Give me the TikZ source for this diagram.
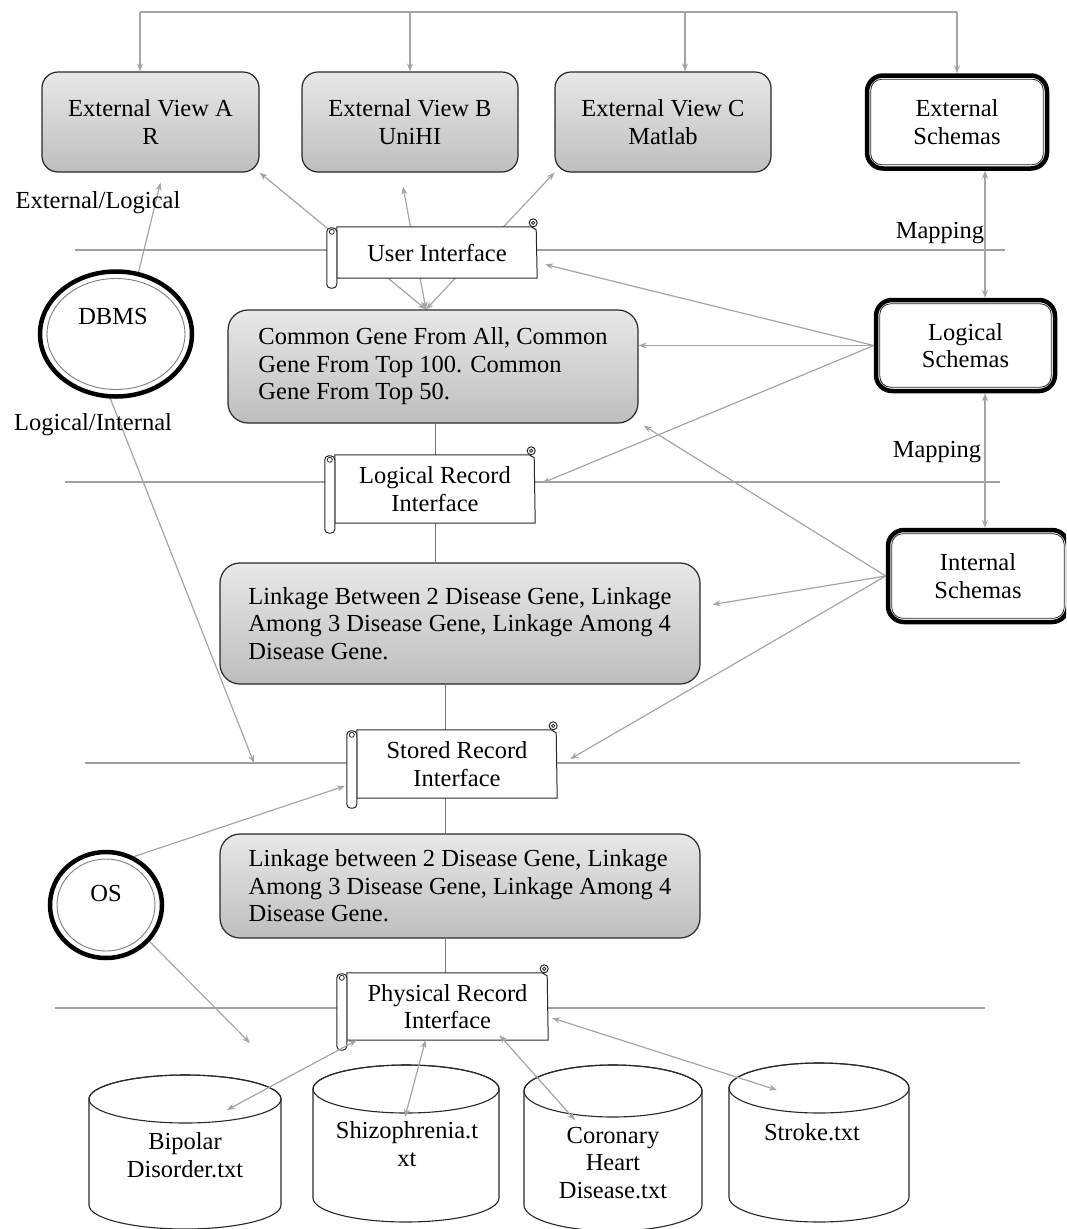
\documentclass[tikz,border=0pt]{standalone}
\usepackage{fontspec}
\setmainfont{Liberation Serif}
\usetikzlibrary{shapes.geometric,arrows.meta,calc}
\pgfdeclarelayer{bg}
\pgfdeclarelayer{mid}
\pgfsetlayers{bg,mid,main}
\definecolor{g1}{RGB}{232,232,232}
\definecolor{g2}{RGB}{190,190,190}
\definecolor{cgray}{RGB}{165,165,165}
\definecolor{hgray}{RGB}{160,160,160}
\definecolor{vgray}{RGB}{120,120,120}
\definecolor{edge}{RGB}{40,40,40}
\newcommand{\scrolldeco}[1]{%
  \draw[edge, line width=1pt, fill=white] (#1.north west) -- ([xshift=-6pt]#1.north east) -- ([shift={(-1pt,-3pt)}]#1.north east) -- (#1.south east) -- (#1.south west) -- cycle;
  \draw[edge, line width=1pt, fill=white] ([shift={(-4pt,4pt)}]#1.north east) circle (4pt);
  \draw[edge, line width=0.8pt] ([shift={(-4pt,4pt)}]#1.north east) circle (1.6pt);
  \draw[edge, line width=1pt, fill=white, rounded corners=4pt] ([shift={(-10pt,-1pt)}]#1.north west) rectangle ([shift={(0pt,-10pt)}]#1.south west);
  \draw[edge, line width=0.8pt] ([shift={(-5pt,-5pt)}]#1.north west) circle (2.5pt);
}
\newcommand{\cylshape}[5]{%
  \draw[edge, line width=1.1pt, fill=white] (#1-#2,#3) -- (#1-#2,#4) arc[start angle=180, end angle=360, x radius=#2pt, y radius=#5pt] -- (#1+#2,#3) arc[start angle=0, end angle=180, x radius=#2pt, y radius=#5pt] -- cycle;
  \draw[edge, line width=1.1pt] (#1,#3) ellipse [x radius=#2pt, y radius=#5pt];
}
\begin{document}
\begin{tikzpicture}[x=1pt,y=-1pt,
  txt/.style={font=\fontsize{24.5}{27.5}\selectfont, align=center, inner sep=0pt},
  gbox/.style={txt, draw=edge, line width=1.2pt, rounded corners=16pt, top color=g1, bottom color=g2},
  sbox/.style={txt, draw=black, line width=4.5pt, rounded corners=16pt, fill=white},
  conn/.style={draw=cgray, line width=1.2pt},
  arr/.style={conn, ->, >={Stealth[length=8pt,width=6pt]}},
  darr/.style={conn, <->, >={Stealth[length=8pt,width=6pt]}},
  hline/.style={draw=hgray, line width=1.3pt},
  vline/.style={draw=vgray, line width=1pt},
  ring/.style={ellipse, draw=black, line width=4.5pt, fill=white, inner sep=0pt}
]
\useasboundingbox (0,0) rectangle (1066,1229);
\clip (0,0) rectangle (1066,1229);

% ---------- boxes ----------
\node[gbox, minimum width=217, minimum height=100] (exA) at (150.5,122) {External View A\\R};
\node[gbox, minimum width=216, minimum height=100] (exB) at (410,122) {External View B\\UniHI};
\node[gbox, minimum width=216, minimum height=100] (exC) at (663,122) {External View C\\Matlab};

\node[sbox, minimum width=180, minimum height=93] (exS) at (957,122) {External\\Schemas};
\draw[edge, line width=0.8pt, rounded corners=11pt] ([shift={(6pt,-6pt)}]exS.north west) rectangle ([shift={(-6pt,6pt)}]exS.south east);
\node[sbox, minimum width=179, minimum height=91] (ls) at (965.5,345.5) {Logical\\Schemas};
\draw[edge, line width=0.8pt, rounded corners=11pt] ([shift={(6pt,-6pt)}]ls.north west) rectangle ([shift={(-6pt,6pt)}]ls.south east);
\node[sbox, minimum width=180, minimum height=92] (is) at (978,576) {Internal\\Schemas};
\draw[edge, line width=0.8pt, rounded corners=11pt] ([shift={(6pt,-6pt)}]is.north west) rectangle ([shift={(-6pt,6pt)}]is.south east);

\node[gbox, minimum width=410, minimum height=113, align=left, rounded corners=20pt] (cg) at (433,366.5) {Common Gene From All, Common\\Gene From Top 100. Common\\Gene From Top 50.};
\node[gbox, minimum width=480, minimum height=121, align=left, rounded corners=20pt] (lk1) at (460,623.5) {Linkage Between 2 Disease Gene, Linkage\\Among 3 Disease Gene, Linkage Among 4\\Disease Gene.};
\node[gbox, minimum width=480, minimum height=104, align=left, rounded corners=20pt] (lk2) at (460,886) {Linkage between 2 Disease Gene, Linkage\\Among 3 Disease Gene, Linkage Among 4\\Disease Gene.};

% ---------- scrolls ----------
\node[txt, minimum width=200, minimum height=51] (ui) at (437,252.5) {User Interface};
\node[txt, minimum width=200, minimum height=68] (lri) at (435,489) {Logical Record\\Interface};
\node[txt, minimum width=200, minimum height=68] (sri) at (457,764) {Stored Record\\Interface};
\node[txt, minimum width=201, minimum height=67] (pri) at (447.5,1006.5) {Physical Record\\Interface};
\begin{pgfonlayer}{mid}
\scrolldeco{ui}
\scrolldeco{lri}
\scrolldeco{sri}
\scrolldeco{pri}
\end{pgfonlayer}

% ---------- rings ----------
\node[ring, minimum width=152, minimum height=125] (dbms) at (116,334) {};
\draw[edge!60, line width=0.9pt] (dbms.center) ellipse [x radius=69pt, y radius=55.5pt];
\node[txt] (dbmst) at (113,317) {DBMS};
\node[ring, minimum width=112, minimum height=106] (os) at (106,905) {};
\draw[edge!60, line width=0.9pt] (os.center) ellipse [x radius=49pt, y radius=46pt];
\node[txt] (ost) at (106,893) {OS};

% ---------- labels ----------
\node[txt] (extlog) at (98,203) {External/Logical};
\node[txt] (logint) at (93,425) {Logical/Internal};
\node[txt] (map1) at (940,233) {Mapping};
\node[txt] (map2) at (937,452) {Mapping};

% ---------- cylinders ----------
\cylshape{185}{96}{1099}{1205}{24}
\node[txt] (bip) at (185,1155) {Bipolar\\Disorder.txt};
\cylshape{406}{93}{1089}{1198}{24}
\node[txt] (shz) at (407,1144) {Shizophrenia.t\\xt};
\cylshape{613}{89}{1091}{1205}{26}
\node[txt] (cor) at (613,1163) {Coronary\\Heart\\Disease.txt};
\cylshape{819}{90}{1088}{1197}{25}
\node[txt] (stk) at (812,1132) {Stroke.txt};

% ---------- coordinates ----------
\coordinate (busA) at (140,12);
\coordinate (busB) at (410,12);
\coordinate (busC) at (685,12);
\coordinate (busS) at (957,12);
\coordinate (h1l) at (75,250);
\coordinate (h1r) at (1005,250);
\coordinate (h2l) at (65,482);
\coordinate (h2r) at (1000,482);
\coordinate (h3l) at (85,763);
\coordinate (h3r) at (1020,763);
\coordinate (h4l) at (55,1008);
\coordinate (h4r) at (985,1008);
\coordinate (h3tip) at (254,763);
\coordinate (osend) at (250,1043);
\coordinate (bipT) at (227,1110);
\coordinate (shzT) at (405,1117);
\coordinate (corT) at (575,1120);
\coordinate (stkT) at (777,1090);

% ---------- connectors behind ----------
\begin{pgfonlayer}{bg}
\draw[conn] (busA) -- (busS);
\draw[arr] (busA) -- (busA |- exA.north);
\draw[arr] (busB) -- (busB |- exB.north);
\draw[arr] (busC) -- (busC |- exC.north);
\draw[arr] (busS) -- (busS |- exS.north);
\draw[hline] (h1l) -- (h1r);
\draw[hline] (h2l) -- (h2r);
\draw[hline] (h3l) -- (h3r);
\draw[hline] (h4l) -- (h4r);
\draw[vline] (lri.north) -- (lri.north |- cg.south);
\draw[vline] (lri.south) -- (lri.south |- lk1.north);
\coordinate (v3) at ([xshift=-12pt]sri.north);
\draw[vline] (v3) -- (v3 |- lk1.south);
\coordinate (v4) at ([xshift=-12pt]sri.south);
\draw[vline] (v4) -- (v4 |- lk2.north);
\coordinate (v5) at ([xshift=-2.5pt]pri.north);
\draw[vline] (v5) -- (v5 |- lk2.south);
\draw[darr] ([xshift=-7pt]cg.north) -- (exA.south east);
\draw[darr] ([xshift=-7pt]cg.north) -- ([shift={(-7pt,-14pt)}]exB.south);
\draw[darr] ([xshift=-7pt]cg.north) -- (exC.south west);
\draw[arr] (dbms.70) -- ([shift={(10pt,-10pt)}]exA.south);
\draw[arr] (dbms.265) -- (h3tip);
\draw[arr] (os.60) -- ([shift={(-12pt,-22pt)}]sri.west);
\draw[arr] (os.-40) -- (osend);
\draw[arr] (ls.west) -- ([shift={(8pt,-12pt)}]ui.east);
\draw[arr] (ls.west) -- (cg.east |- ls.west);
\draw[arr] (ls.west) -- ([shift={(7pt,6pt)}]lri.east);
\draw[arr] (is.west) -- ([shift={(5pt,-2pt)}]cg.south east);
\draw[arr] (is.west) -- ([shift={(12pt,19pt)}]lk1.east);
\draw[arr] (is.west) -- ([shift={(13pt,5pt)}]sri.east);
\coordinate (m1) at ([xshift=28pt]exS.south);
\draw[darr] (m1) -- (m1 |- ls.north);
\coordinate (m2) at ([xshift=19.5pt]ls.south);
\draw[darr] (m2) -- (m2 |- is.north);
\end{pgfonlayer}

% ---------- connectors to files ----------
\draw[darr] ([xshift=10pt]pri.south west) -- (bipT);
\draw[darr] ([xshift=-22pt]pri.south) -- (shzT);
\draw[darr] ([shift={(52pt,5pt)}]pri.south) -- (corT);
\draw[darr] ([shift={(4pt,-11.5pt)}]pri.east) -- (stkT);
\end{tikzpicture}
\end{document}
